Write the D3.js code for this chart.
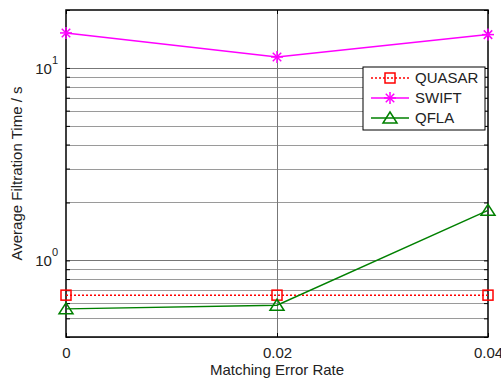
<!DOCTYPE html>
<html>
<head>
<meta charset="utf-8">
<script src="https://cdn.jsdelivr.net/npm/d3@7"></script>
<style>
  body { margin: 0; background: #fff; }
  text { font-family: "Liberation Sans", Arial, sans-serif; }
</style>
</head>
<body>
<svg id="chart" width="501" height="380"></svg>
<script>
// data
var errorRates = [0, 0.02, 0.04];
var quasar = [0.66, 0.66, 0.66];
var swift = [15.2, 11.4, 14.9];
var qfla = [0.56, 0.585, 1.82];
var xTicks = [0, 0.02, 0.04];
var xTickLabels = ["0", "0.02", "0.04"];
var yMajor = [1, 10];
var yMinor = [0.4, 0.5, 0.6, 0.7, 0.8, 0.9, 2, 3, 4, 5, 6, 7, 8, 9];

var margin = {top: 10, right: 13, bottom: 43, left: 66};
var width = 501, height = 380;
var fs = 15;

var svg = d3.select("#chart");

var x = d3.scaleLinear()
    .domain([0, 0.04])
    .range([margin.left, width - margin.right]);
var y = d3.scaleLog()
    .domain([0.4, 20])
    .range([height - margin.bottom, margin.top]);

// grid
var grid = svg.append("g");
grid.selectAll(".hminor")
    .data(yMinor)
    .enter().append("line")
    .attr("x1", x(0)).attr("x2", x(0.04))
    .attr("y1", d => Math.round(y(d)) + 0.5).attr("y2", d => Math.round(y(d)) + 0.5)
    .attr("stroke", "#9a9a9a").attr("stroke-width", 1);
grid.selectAll(".hmajor")
    .data(yMajor)
    .enter().append("line")
    .attr("x1", x(0)).attr("x2", x(0.04))
    .attr("y1", d => Math.round(y(d)) + 0.5).attr("y2", d => Math.round(y(d)) + 0.5)
    .attr("stroke", "#777").attr("stroke-width", 1);
grid.selectAll(".vgrid")
    .data(xTicks.slice(1, -1))
    .enter().append("line")
    .attr("x1", d => Math.round(x(d)) + 0.5).attr("x2", d => Math.round(x(d)) + 0.5)
    .attr("y1", y(0.4)).attr("y2", y(20))
    .attr("stroke", "#777").attr("stroke-width", 1);

// axes (ticks point inward, mirrored on top and right)
var fmt = (d, i) => xTickLabels[i];
svg.append("g")
    .attr("transform", "translate(0," + y(0.4) + ")")
    .call(d3.axisBottom(x).tickValues(xTicks).tickFormat(fmt).tickSizeInner(-4).tickSizeOuter(0).tickPadding(10))
    .call(g => g.select(".domain").remove())
    .call(g => g.selectAll("text").attr("font-size", fs).attr("fill", "#222"));
svg.append("g")
    .attr("transform", "translate(0," + y(20) + ")")
    .call(d3.axisTop(x).tickValues(xTicks).tickFormat("").tickSizeInner(-4).tickSizeOuter(0))
    .call(g => g.select(".domain").remove());

var yTickVals = yMajor.concat(yMinor).concat([20]);
svg.append("g")
    .attr("transform", "translate(" + x(0) + ",0)")
    .call(d3.axisLeft(y).tickValues(yTickVals).tickFormat("").tickSizeInner(-4).tickSizeOuter(0))
    .call(g => g.select(".domain").remove());
svg.append("g")
    .attr("transform", "translate(" + x(0.04) + ",0)")
    .call(d3.axisRight(y).tickValues(yTickVals).tickFormat("").tickSizeInner(-4).tickSizeOuter(0))
    .call(g => g.select(".domain").remove());

// y tick labels as 10^n
yMajor.forEach(function(v) {
  var t = svg.append("text")
      .attr("x", x(0) - 8)
      .attr("y", y(v) + 6)
      .attr("text-anchor", "end")
      .attr("font-size", fs)
      .attr("fill", "#222");
  t.append("tspan").text("10");
  t.append("tspan").attr("dy", -10).attr("font-size", 11).text(Math.round(Math.log10(v)));
});

// plot box
svg.append("rect")
    .attr("x", x(0)).attr("y", y(20))
    .attr("width", x(0.04) - x(0)).attr("height", y(0.4) - y(20))
    .attr("fill", "none").attr("stroke", "#000").attr("stroke-width", 1.5);

// series
var series = [
  {name: "QUASAR", values: quasar, color: "#ff0000", dash: "2,2", marker: "square"},
  {name: "SWIFT", values: swift, color: "#ff00ff", dash: null, marker: "star"},
  {name: "QFLA", values: qfla, color: "#008000", dash: null, marker: "triangle"}
];

function drawMarker(g, type, cx, cy, color) {
  if (type == "square") {
    g.append("rect")
        .attr("x", cx - 5).attr("y", cy - 5).attr("width", 10).attr("height", 10)
        .attr("fill", "none").attr("stroke", color).attr("stroke-width", 1.5);
  } else if (type == "star") {
    var r = 6;
    [0, 45, 90, 135].forEach(function(a) {
      var rad = a * Math.PI / 180;
      g.append("line")
          .attr("x1", cx - r * Math.cos(rad)).attr("y1", cy - r * Math.sin(rad))
          .attr("x2", cx + r * Math.cos(rad)).attr("y2", cy + r * Math.sin(rad))
          .attr("stroke", color).attr("stroke-width", 1.5);
    });
  } else if (type == "triangle") {
    g.append("path")
        .attr("d", "M" + cx + "," + (cy - 6) + "L" + (cx + 7) + "," + (cy + 5) + "L" + (cx - 7) + "," + (cy + 5) + "Z")
        .attr("fill", "none").attr("stroke", color).attr("stroke-width", 1.5);
  }
}

var line = d3.line()
    .x((d, i) => x(errorRates[i]))
    .y(d => y(d));

series.forEach(function(s) {
  svg.append("path")
      .datum(s.values)
      .attr("d", line)
      .attr("fill", "none")
      .attr("stroke", s.color)
      .attr("stroke-width", 1.5)
      .attr("stroke-dasharray", s.dash);
  var g = svg.append("g");
  s.values.forEach(function(v, i) {
    drawMarker(g, s.marker, x(errorRates[i]), y(v), s.color);
  });
});

// legend
var legend = svg.append("g").attr("transform", "translate(363,67)");
legend.append("rect")
    .attr("width", 122).attr("height", 63)
    .attr("fill", "#fff").attr("stroke", "#000").attr("stroke-width", 1);
series.forEach(function(s, i) {
  var ly = 11 + i * 20;
  legend.append("line")
      .attr("x1", 8).attr("x2", 46).attr("y1", ly).attr("y2", ly)
      .attr("stroke", s.color).attr("stroke-width", 1.5)
      .attr("stroke-dasharray", s.dash);
  drawMarker(legend, s.marker, 27, ly, s.color);
  legend.append("text")
      .attr("x", 52).attr("y", ly + 5)
      .attr("font-size", fs).attr("fill", "#222")
      .text(s.name);
});

// axis titles
svg.append("text")
    .attr("x", (x(0) + x(0.04)) / 2)
    .attr("y", 375)
    .attr("text-anchor", "middle")
    .attr("font-size", fs).attr("fill", "#222")
    .text("Matching Error Rate");
svg.append("text")
    .attr("transform", "translate(22," + ((y(0.4) + y(20)) / 2) + ") rotate(-90)")
    .attr("text-anchor", "middle")
    .attr("font-size", fs).attr("fill", "#222")
    .text("Average Filtration Time / s");
</script>
</body>
</html>
